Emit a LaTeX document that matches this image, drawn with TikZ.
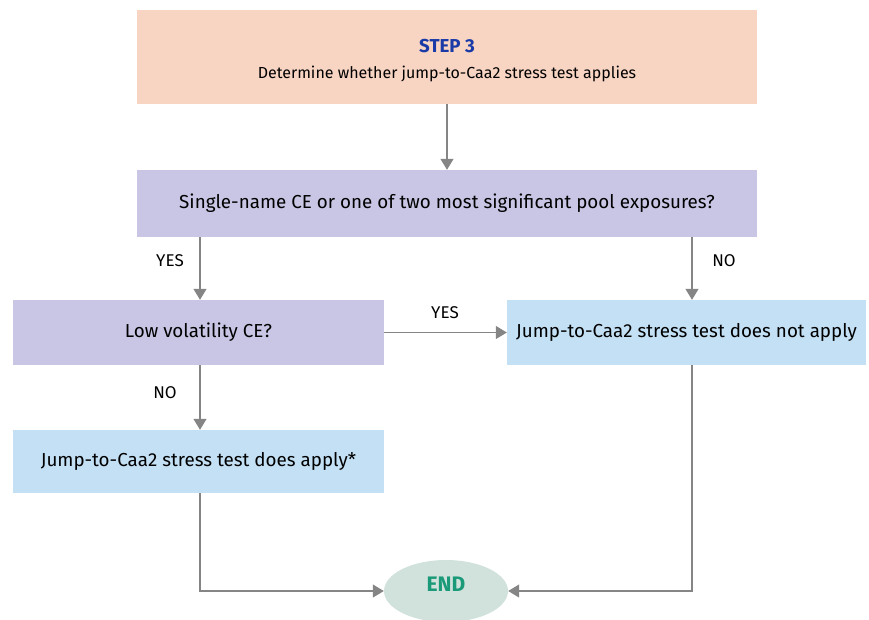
\documentclass[tikz,border=0pt]{standalone}
\usepackage{fontspec}
\setmainfont{Fira Sans}
\usetikzlibrary{shapes.geometric,arrows.meta}
\definecolor{peach}{HTML}{F8D5C3}
\definecolor{lavender}{HTML}{C8C6E4}
\definecolor{paleblue}{HTML}{C3E0F4}
\definecolor{endfill}{HTML}{D0E2DB}
\definecolor{endtext}{HTML}{1A9A78}
\definecolor{stepblue}{HTML}{1A3AA8}
\definecolor{arrowgrey}{HTML}{858585}
\tikzset{
  box/.style={rectangle, inner sep=0pt, align=center, font=\fontsize{18.8}{22}\selectfont},
  arr/.style={draw=arrowgrey, line width=1.2pt, -{Triangle[length=11pt,width=13pt]}},
  lbl/.style={font=\fontsize{17}{20}\selectfont}
}
\begin{document}
\begin{tikzpicture}[x=1pt, y=-1pt]
    \useasboundingbox (0,0) rectangle (869,619);
    \node[box, fill=peach, minimum width=620pt, minimum height=94pt, text height=46pt,
      font=\fontsize{16}{26}\selectfont] (step) at (447,57)
      {{\color{stepblue}\fontsize{18.7}{26}\selectfont\bfseries STEP 3}\\Determine whether jump-to-Caa2 stress test applies};
    \node[box, fill=lavender, minimum width=620pt, minimum height=67pt] (single) at (447,203.5)
      {Single-name CE or one of two most significant pool exposures?};
    \node[box, fill=lavender, minimum width=371pt, minimum height=65pt] (lowvol) at (198.5,332.5)
      {Low volatility CE?};
    \node[box, fill=paleblue, minimum width=359pt, minimum height=65pt] (notapply) at (686.5,332.5)
      {Jump-to-Caa2 stress test does not apply};
    \node[box, fill=paleblue, minimum width=371pt, minimum height=63pt] (doesapply) at (198.5,461.5)
      {Jump-to-Caa2 stress test does apply*};
    \node[ellipse, fill=endfill, minimum width=124pt, minimum height=62pt, inner sep=0pt,
      text=endtext, font=\fontsize{21}{24}\selectfont\bfseries] (end) at (446,591) {\raisebox{14pt}{END}};

    \draw[arr] (step) -- (single);
    \draw[arr] ([xshift=1.5pt]lowvol.north |- single.south) -- ([xshift=1.5pt]lowvol.north);
    \draw[arr] ([xshift=5.5pt]notapply.north |- single.south) -- ([xshift=5.5pt]notapply.north);
    \draw[arr] (lowvol) -- (notapply);
    \draw[arr] ([xshift=1.5pt]lowvol.south) -- ([xshift=1.5pt]doesapply.north);
    \draw[arr] ([xshift=1.5pt]doesapply.south) |- (end.west);
    \draw[arr] ([xshift=5.5pt]notapply.south) |- (end.east);

    \node[lbl] (yes1) at (170,261) {YES};
    \node[lbl] (no1) at (724,261) {NO};
    \node[lbl] (yes2) at (445,313) {YES};
    \node[lbl] (no2) at (165,393) {NO};
\end{tikzpicture}
\end{document}
